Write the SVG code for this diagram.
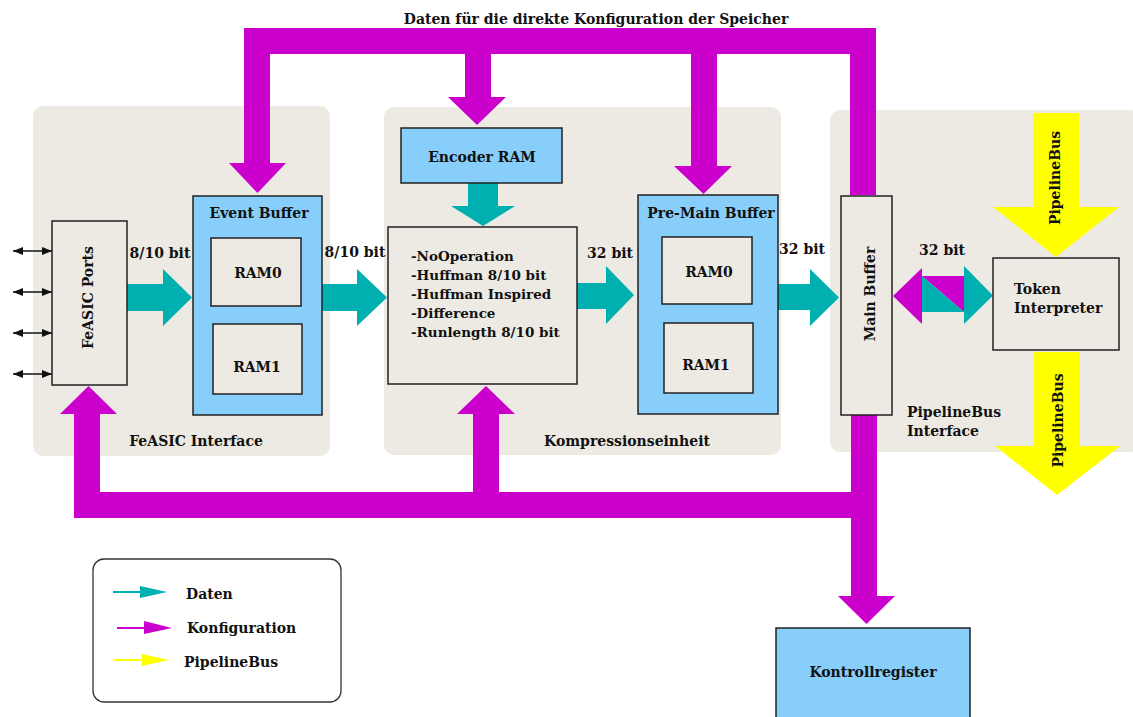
<svg xmlns="http://www.w3.org/2000/svg" width="1133" height="717" viewBox="0 0 1133 717">
<defs>
<style>
text{font-family:"DejaVu Serif","Liberation Serif",serif;font-weight:bold;font-size:14px;fill:#111}
.panel{fill:#EDEAE3}
.box{fill:#EDEAE3;stroke:#222;stroke-width:1.5}
.blue{fill:#87CEFA;stroke:#222;stroke-width:1.5}
.teal{fill:#00B0B0}
.mag{fill:#CC00CC}
.yel{fill:#FFFF00}
.port{stroke:#111;stroke-width:1.3;marker-start:url(#ah);marker-end:url(#ah)}
.mid{text-anchor:middle}
.list{font-size:13.5px}
</style>
<marker id="ah" viewBox="0 0 10 8" refX="10" refY="4" markerWidth="10" markerHeight="8" markerUnits="userSpaceOnUse" orient="auto-start-reverse">
<path d="M0,0 L10,4 L0,8 Z" fill="#111"/>
</marker>
</defs>
<rect width="1133" height="717" fill="#fff"/>

<g id="panels">
<rect class="panel" x="33" y="106" width="297" height="350" rx="10"/>
<rect class="panel" x="384" y="107" width="397" height="348" rx="10"/>
<rect class="panel" x="830" y="110" width="310" height="342" rx="10"/>
<text x="196" y="446" class="mid">FeASIC Interface</text>
<text x="627" y="446" class="mid">Kompressionseinheit</text>
<text x="907" y="417">PipelineBus</text>
<text x="907" y="436">Interface</text>
</g>

<g id="title">
<text x="596" y="24" class="mid">Daten für die direkte Konfiguration der Speicher</text>
</g>

<g id="connectors">
<!-- top configuration bus -->
<rect class="mag" x="244" y="28" width="632" height="26"/>
<rect class="mag" x="244" y="28" width="26" height="136"/>
<polygon class="mag" points="229,163 286,163 257.5,193"/>
<rect class="mag" x="465" y="53" width="26" height="45"/>
<polygon class="mag" points="448,97 506,97 477,125"/>
<rect class="mag" x="691" y="53" width="26" height="114"/>
<polygon class="mag" points="674,166 732,166 703.5,194"/>
<rect class="mag" x="850" y="28" width="26" height="167"/>
<!-- bottom configuration bus -->
<rect class="mag" x="851" y="414" width="26" height="183"/>
<polygon class="mag" points="838,596 895,596 866.5,624"/>
<rect class="mag" x="74" y="492" width="803" height="26"/>
<rect class="mag" x="74" y="413" width="26" height="105"/>
<polygon class="mag" points="60,414 117,414 88.5,386"/>
<rect class="mag" x="473" y="413" width="26" height="80"/>
<polygon class="mag" points="457,414 515,414 486,386"/>
<!-- data arrows -->
<polygon class="teal" points="127,284 163,284 163,269 192,297.5 163,326 163,311 127,311"/>
<polygon class="teal" points="322,284 357,284 357,269 387,297.5 357,326 357,311 322,311"/>
<polygon class="teal" points="577,283 606,283 606,266 634,295 606,324 606,309 577,309"/>
<polygon class="teal" points="778,284 810,284 810,269 839,297.5 810,326 810,310 778,310"/>
<polygon class="teal" points="468,183 498,183 498,206 515,206 483,226 451,206 468,206"/>
<!-- bidirectional 32 bit -->
<polygon class="mag" points="893,296 922,268 922,324"/>
<polygon class="mag" points="922,276 964,276 964,312"/>
<polygon class="teal" points="922,276 922,312 964,312"/>
<polygon class="teal" points="964,266 993,295.5 964,324"/>
<!-- pipeline bus -->
<polygon class="yel" points="1033,113 1079,113 1079,207 1119,207 1056,257 993,207 1033,207"/>
<polygon class="yel" points="1034,352 1080,352 1080,446 1120,446 1057,495 995,446 1034,446"/>
<text transform="translate(1060,178) rotate(-90)" class="mid">PipelineBus</text>
<text transform="translate(1063,420.5) rotate(-90)" class="mid">PipelineBus</text>
<!-- ports -->
<line class="port" x1="13" y1="251" x2="52" y2="251"/>
<line class="port" x1="13" y1="292" x2="52" y2="292"/>
<line class="port" x1="13" y1="333" x2="52" y2="333"/>
<line class="port" x1="13" y1="374" x2="52" y2="374"/>
<!-- labels -->
<text x="160" y="258" class="mid">8/10 bit</text>
<text x="355" y="257" class="mid">8/10 bit</text>
<text x="610" y="258" class="mid">32 bit</text>
<text x="802" y="254" class="mid">32 bit</text>
<text x="942" y="255" class="mid">32 bit</text>
</g>

<g id="feasic-ports">
<rect class="box" x="52" y="221" width="75" height="164"/>
<text transform="translate(93,297.5) rotate(-90)" class="mid">FeASIC Ports</text>
</g>

<g id="event-buffer">
<rect class="blue" x="193" y="196" width="129" height="219"/>
<text x="259" y="218" class="mid">Event Buffer</text>
<rect class="box" x="211" y="238" width="90" height="68"/>
<text x="258" y="278" class="mid">RAM0</text>
<rect class="box" x="213" y="324" width="89" height="70"/>
<text x="257" y="372" class="mid">RAM1</text>
</g>

<g id="encoder-ram">
<rect class="blue" x="401" y="128" width="161" height="55"/>
<text x="482" y="162" class="mid">Encoder RAM</text>
</g>

<g id="compression">
<rect class="box" x="388" y="227" width="189" height="157"/>
<text x="411" y="261" class="list">-NoOperation</text>
<text x="411" y="280" class="list">-Huffman 8/10 bit</text>
<text x="411" y="299" class="list">-Huffman Inspired</text>
<text x="411" y="318" class="list">-Difference</text>
<text x="411" y="337" class="list">-Runlength 8/10 bit</text>
</g>

<g id="pre-main-buffer">
<rect class="blue" x="638" y="195" width="140" height="219"/>
<text x="711" y="218" class="mid">Pre-Main Buffer</text>
<rect class="box" x="662" y="237" width="90" height="67"/>
<text x="709" y="277" class="mid">RAM0</text>
<rect class="box" x="664" y="323" width="89" height="70"/>
<text x="706" y="370" class="mid">RAM1</text>
</g>

<g id="main-buffer">
<rect class="box" x="841" y="196" width="51" height="219"/>
<text transform="translate(875,294) rotate(-90)" class="mid">Main Buffer</text>
</g>

<g id="token-interpreter">
<rect class="box" x="993" y="258" width="126" height="92"/>
<text x="1014" y="294">Token</text>
<text x="1014" y="313">Interpreter</text>
</g>

<g id="kontrollregister">
<rect class="blue" x="776" y="628" width="194" height="95"/>
<text x="873" y="677" class="mid">Kontrollregister</text>
</g>

<g id="legend">
<rect x="93" y="559" width="248" height="143" rx="11" fill="#fff" stroke="#333" stroke-width="1.3"/>
<line x1="113" y1="592" x2="145" y2="592" stroke="#00B0B0" stroke-width="2"/>
<polygon class="teal" points="140,586 167,592 140,598"/>
<text x="186" y="599">Daten</text>
<line x1="117" y1="628" x2="148" y2="628" stroke="#CC00CC" stroke-width="2"/>
<polygon class="mag" points="144,621 172,628 144,634"/>
<text x="187" y="633">Konfiguration</text>
<line x1="114" y1="660" x2="146" y2="660" stroke="#FFFF00" stroke-width="2"/>
<polygon class="yel" points="142,654 169,660 142,666"/>
<text x="184" y="667">PipelineBus</text>
</g>
</svg>
